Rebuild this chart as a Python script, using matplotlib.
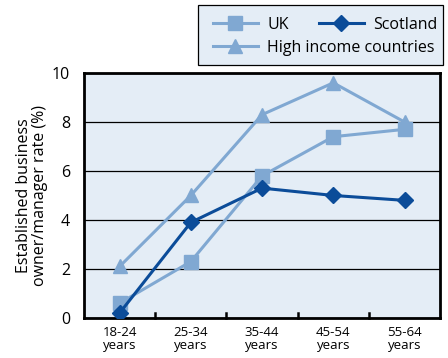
import matplotlib
matplotlib.use("Agg")
import matplotlib.pyplot as plt
from matplotlib.patches import Rectangle

plt.rcParams['font.family'] = ['Open Sans', 'DejaVu Sans']

categories = ["18-24\nyears", "25-34\nyears", "35-44\nyears", "45-54\nyears", "55-64\nyears"]
uk = [0.6, 2.3, 5.8, 7.4, 7.7]
scotland = [0.2, 3.9, 5.3, 5.0, 4.8]
high_income = [2.1, 5.0, 8.3, 9.6, 8.0]
y_ticks = [0, 2, 4, 6, 8, 10]

light = "#80a8d2"
dark = "#0b4c99"
panel = "#e4edf6"

fig = plt.figure(figsize=(4.48, 3.58), dpi=100)
ax = fig.add_axes([0.1875, 0.112, 0.795, 0.684])
ax.set_facecolor(panel)

x = list(range(len(categories)))
l_uk, = ax.plot(x, uk, color=light, lw=2.2, marker="s", ms=9.5, label="UK", zorder=3)
l_hi, = ax.plot(x, high_income, color=light, lw=2.2, marker="^", ms=10, label="High income countries", zorder=3)
l_sc, = ax.plot(x, scotland, color=dark, lw=2.2, marker="D", ms=8.5, label="Scotland", zorder=4)

ax.set_xlim(-0.5, 4.5)
ax.set_ylim(0, 10)
ax.set_yticks(y_ticks)
ax.set_yticklabels([str(v) for v in y_ticks], fontsize=11.5)
ax.tick_params(axis="y", length=0, pad=10)
ax.yaxis.grid(True, color="black", lw=0.9)
ax.set_axisbelow(True)

ax.set_xticks(x)
ax.set_xticklabels(categories, fontsize=9.5, linespacing=1.0)
ax.tick_params(axis="x", length=0, pad=6)
for b in [0.5, 1.5, 2.5, 3.5]:
    ax.plot([b, b], [0, 0.18], color="black", lw=1.8, clip_on=False, zorder=5)

for s in ax.spines.values():
    s.set_linewidth(2)
    s.set_color("black")

ax.set_ylabel("Established business\nowner/manager rate (%)", fontsize=11.5, labelpad=3, linespacing=1.0)

# legend box with two rows of entries
fig.patches.append(Rectangle((0.442, 0.818), 0.547, 0.168, transform=fig.transFigure,
                             facecolor=panel, edgecolor="black", lw=0.9, zorder=0))
common = dict(frameon=False, fontsize=11.5, handlelength=2.8, handletextpad=0.6,
              borderpad=0, borderaxespad=0, loc="center left")
fig.legend(handles=[l_uk, l_sc], ncol=2, columnspacing=1.9,
           bbox_to_anchor=(0.475, 0.930), **common)
fig.legend(handles=[l_hi], bbox_to_anchor=(0.475, 0.866), **common)

fig.savefig("out.png", dpi=100)
